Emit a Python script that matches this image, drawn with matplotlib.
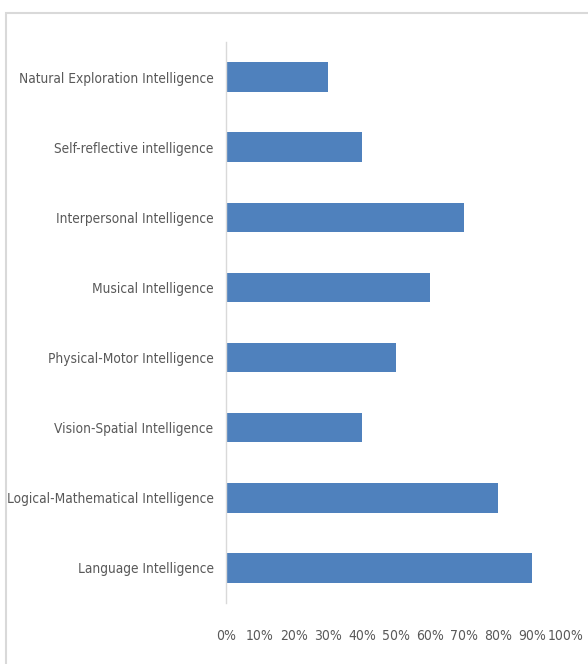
import matplotlib as mpl
mpl.use("Agg")
import matplotlib.pyplot as plt
from matplotlib.patches import Rectangle
from matplotlib.ticker import PercentFormatter

categories = [
    "Language Intelligence",
    "Logical-Mathematical Intelligence",
    "Vision-Spatial Intelligence",
    "Physical-Motor Intelligence",
    "Musical Intelligence",
    "Interpersonal Intelligence",
    "Self-reflective intelligence",
    "Natural Exploration Intelligence",
]
values = [90, 80, 40, 50, 60, 70, 40, 30]
x_ticks = [0, 10, 20, 30, 40, 50, 60, 70, 80, 90, 100]

plt.rcParams["font.family"] = ["DejaVu Sans"]
plt.rcParams["font.stretch"] = "condensed"
text_color = "#595959"
bar_color = "#4F81BD"

W, H = 588, 664
fig = plt.figure(figsize=(W / 100, H / 100), dpi=100)
ax = fig.add_axes([226 / W, (H - 603) / H, 340 / W, 561 / H])

ax.barh(range(len(categories)), values, height=0.42, color=bar_color)

ax.set_xlim(0, 100)
ax.set_ylim(-0.5, len(categories) - 0.5)
ax.set_yticks(range(len(categories)))
ax.set_yticklabels(categories)
ax.set_xticks(x_ticks)
ax.xaxis.set_major_formatter(PercentFormatter(decimals=0))

for s in ["top", "right", "bottom"]:
    ax.spines[s].set_visible(False)
ax.spines["left"].set_color("#d9d9d9")
ax.spines["left"].set_linewidth(1.0)

ax.tick_params(axis="both", length=0, colors=text_color)
ax.tick_params(axis="y", pad=9, labelsize=9.8)
ax.tick_params(axis="x", pad=19, labelsize=10)

# light frame around the chart area
fig.patches.append(Rectangle((6 / W, -0.05), 1.0, (H - 13) / H + 0.05,
                             transform=fig.transFigure, fill=False,
                             edgecolor="#d9d9d9", linewidth=1.5))

fig.savefig("out.png", dpi=100)
